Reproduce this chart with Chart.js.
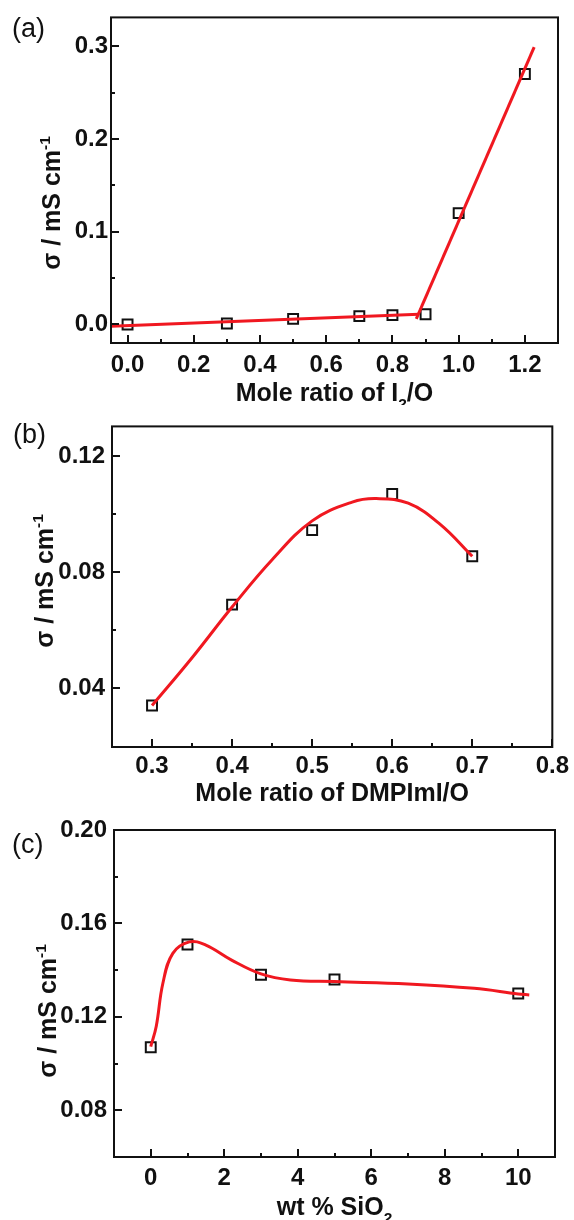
<!DOCTYPE html>
<html>
<head>
<meta charset="utf-8">
<script src="https://cdn.jsdelivr.net/npm/chart.js@4.4.1/dist/chart.umd.min.js"></script>
<style>
  html, body { margin: 0; padding: 0; background: #fff; }
  #wrap { position: relative; width: 574px; height: 1220px; }
  canvas { position: absolute; left: 0; }
</style>
</head>
<body>
<div id="wrap">
  <canvas id="chartA" width="574" height="405" style="top:0"></canvas>
  <canvas id="chartB" width="574" height="400" style="top:405px"></canvas>
  <canvas id="chartC" width="574" height="415" style="top:805px"></canvas>
</div>
<script>
// (a) conductivity vs. I2/O mole ratio, with two linear fits
const ratioI2 = [0, 0.3, 0.5, 0.7, 0.8, 0.9, 1.0, 1.2];
const sigmaI2 = [0.000, 0.001, 0.006, 0.009, 0.010, 0.011, 0.120, 0.270];
const fitLowX = [-0.05, 0.88];
const fitLowY = [-0.002, 0.011];
const fitHighX = [0.872, 1.228];
const fitHighY = [0.006, 0.299];
const ticksAX = [0, 0.2, 0.4, 0.6, 0.8, 1.0, 1.2];
const ticksAY = [0, 0.1, 0.2, 0.3];

// (b) conductivity vs. DMPImI/O mole ratio
const ratioDMP = [0.3, 0.4, 0.5, 0.6, 0.7];
const sigmaDMP = [0.034, 0.0688, 0.0945, 0.107, 0.0855];
const curveDMPX = [0.3, 0.35, 0.4, 0.45, 0.5, 0.55, 0.58, 0.62, 0.66, 0.7];
const curveDMPY = [0.034, 0.0505, 0.068, 0.0843, 0.0977, 0.1042, 0.1054, 0.1038, 0.0965, 0.0855];
const ticksBX = [0.3, 0.4, 0.5, 0.6, 0.7, 0.8];
const ticksBY = [0.04, 0.08, 0.12];

// (c) conductivity vs. SiO2 loading
const wtSiO2 = [0, 1, 3, 5, 10];
const sigmaSiO2 = [0.107, 0.151, 0.138, 0.136, 0.130];
const curveSiO2X = [0, 0.15, 0.33, 0.6, 1.05, 1.5, 2.2, 3.0, 3.8, 5.0, 7.0, 8.8, 10.0, 10.3];
const curveSiO2Y = [0.1073, 0.116, 0.1344, 0.1472, 0.1521, 0.1507, 0.1443, 0.1384, 0.1358, 0.1351, 0.1341, 0.1322, 0.1298, 0.1294];
const ticksCX = [0, 2, 4, 6, 8, 10];
const ticksCY = [0.08, 0.12, 0.16, 0.20];

const FONT = "'Liberation Sans', Arial, Helvetica, sans-serif";
const INK = '#111';
const RED = '#f01820';
const TICK_SIZE = 24;
const TITLE_SIZE = 25;
Chart.defaults.font.family = FONT;

const pts = (xs, ys) => xs.map((x, i) => ({ x, y: ys[i] }));

function markerSet(xs, ys) {
  return {
    data: pts(xs, ys), showLine: false, order: 2,
    pointStyle: 'rect', pointRadius: 7, borderWidth: 2, pointBorderWidth: 2,
    borderColor: INK, backgroundColor: 'rgba(0,0,0,0)'
  };
}

function curveSet(xs, ys, smooth) {
  return {
    data: pts(xs, ys), showLine: true, order: 1,
    borderColor: RED, borderWidth: 3, pointRadius: 0,
    tension: smooth ? 0.4 : 0
  };
}

// text with sub/superscript pieces, centred on x, baseline y
function drawRich(ctx, parts, x, y, size) {
  const fontFor = p => `bold ${p.s ? size * 0.62 : size}px ${FONT}`;
  let w = 0;
  parts.forEach(p => { ctx.font = fontFor(p); w += ctx.measureText(p.t).width; });
  let cx = x - w / 2;
  parts.forEach(p => {
    ctx.font = fontFor(p);
    const dy = p.s === 'sub' ? size * 0.3 : p.s === 'sup' ? -size * 0.42 : 0;
    ctx.fillText(p.t, cx, y + dy);
    cx += ctx.measureText(p.t).width;
  });
}

// frame, inward ticks, panel tag and axis titles
function makeDecor(o) {
  return {
    id: 'decor',
    afterDatasetsDraw(chart) {
      const { ctx, chartArea: a, scales } = chart;
      ctx.save();
      ctx.strokeStyle = INK;
      ctx.lineWidth = 2;
      ctx.strokeRect(a.left, a.top, a.right - a.left, a.bottom - a.top);
      const mark = (scale, v, len) => {
        const p = Math.round(scale.getPixelForValue(v));
        ctx.beginPath();
        if (scale.isHorizontal()) { ctx.moveTo(p, a.bottom); ctx.lineTo(p, a.bottom - len); }
        else { ctx.moveTo(a.left, p); ctx.lineTo(a.left + len, p); }
        ctx.stroke();
      };
      [scales.x, scales.y].forEach(s => {
        const vals = s.ticks.map(t => t.value);
        vals.forEach(v => mark(s, v, 8));
        for (let i = 1; i < vals.length; i++) mark(s, (vals[i - 1] + vals[i]) / 2, 4);
      });

      ctx.fillStyle = INK;
      ctx.textAlign = 'left';
      ctx.textBaseline = 'alphabetic';
      ctx.font = `27px ${FONT}`;
      ctx.fillText(o.tag, o.tagX, o.tagY);

      drawRich(ctx, o.xTitle, (a.left + a.right) / 2, o.xTitleY, TITLE_SIZE);
      ctx.translate(o.yTitleX, o.yTitleY);
      ctx.rotate(-Math.PI / 2);
      drawRich(ctx, o.yTitle, 0, 0, TITLE_SIZE);
      ctx.restore();
    }
  };
}

const sigmaTitle = [{ t: 'σ / mS cm' }, { t: '-1', s: 'sup' }];

function makeChart(id, c) {
  return new Chart(document.getElementById(id), {
    type: 'scatter',
    data: { datasets: c.datasets },
    options: {
      responsive: false,
      animation: false,
      devicePixelRatio: 1,
      layout: { padding: c.pad },
      plugins: { legend: { display: false }, tooltip: { enabled: false } },
      scales: {
        x: {
          type: 'linear', min: c.xMin, max: c.xMax,
          grid: { display: false, drawTicks: false }, border: { display: false },
          afterBuildTicks: s => { s.ticks = c.xTicks.map(v => ({ value: v })); },
          afterFit: s => { s.height = c.xAxisH; },
          ticks: {
            autoSkip: false, maxRotation: 0, padding: c.xPad, color: INK,
            font: { size: TICK_SIZE, weight: 'bold' }, callback: c.xFmt
          }
        },
        y: {
          type: 'linear', min: c.yMin, max: c.yMax,
          grid: { display: false, drawTicks: false }, border: { display: false },
          afterBuildTicks: s => { s.ticks = c.yTicks.map(v => ({ value: v })); },
          afterFit: s => { s.width = c.yAxisW; },
          ticks: {
            autoSkip: false, padding: c.yPad, color: INK,
            font: { size: TICK_SIZE, weight: 'bold' }, callback: c.yFmt
          }
        }
      }
    },
    plugins: [makeDecor(c.decor)]
  });
}

makeChart('chartA', {
  datasets: [
    markerSet(ratioI2, sigmaI2),
    curveSet(fitLowX, fitLowY, false),
    curveSet(fitHighX, fitHighY, false)
  ],
  pad: { top: 13, right: 16, bottom: 0, left: 0 },
  xMin: -0.05, xMax: 1.3, yMin: -0.02, yMax: 0.331,
  xTicks: ticksAX, yTicks: ticksAY,
  xAxisH: 62, yAxisW: 111, xPad: 8, yPad: 3,
  xFmt: v => v.toFixed(1), yFmt: v => v.toFixed(1),
  decor: {
    tag: '(a)', tagX: 12, tagY: 37,
    xTitle: [{ t: 'Mole ratio of I' }, { t: '2', s: 'sub' }, { t: '/O' }], xTitleY: 401,
    yTitle: sigmaTitle, yTitleX: 60, yTitleY: 203
  }
});

makeChart('chartB', {
  datasets: [
    markerSet(ratioDMP, sigmaDMP),
    curveSet(curveDMPX, curveDMPY, true)
  ],
  pad: { top: 11, right: 18, bottom: 0, left: 0 },
  xMin: 0.25, xMax: 0.8, yMin: 0.0197, yMax: 0.1303,
  xTicks: ticksBX, yTicks: ticksBY,
  xAxisH: 58, yAxisW: 112, xPad: 5, yPad: 7,
  xFmt: v => v.toFixed(1), yFmt: v => v.toFixed(2),
  decor: {
    tag: '(b)', tagX: 13, tagY: 38,
    xTitle: [{ t: 'Mole ratio of DMPImI/O' }], xTitleY: 396,
    yTitle: sigmaTitle, yTitleX: 53, yTitleY: 176
  }
});

makeChart('chartC', {
  datasets: [
    markerSet(wtSiO2, sigmaSiO2),
    curveSet(curveSiO2X, curveSiO2Y, true)
  ],
  pad: { top: 25, right: 19, bottom: 0, left: 0 },
  xMin: -1, xMax: 11, yMin: 0.06, yMax: 0.20,
  xTicks: ticksCX, yTicks: ticksCY,
  xAxisH: 63, yAxisW: 114, xPad: 7, yPad: 7,
  xFmt: v => v.toFixed(0), yFmt: v => v.toFixed(2),
  decor: {
    tag: '(c)', tagX: 12, tagY: 48,
    xTitle: [{ t: 'wt % SiO' }, { t: '2', s: 'sub' }], xTitleY: 410,
    yTitle: sigmaTitle, yTitleX: 56, yTitleY: 206
  }
});
</script>
</body>
</html>
